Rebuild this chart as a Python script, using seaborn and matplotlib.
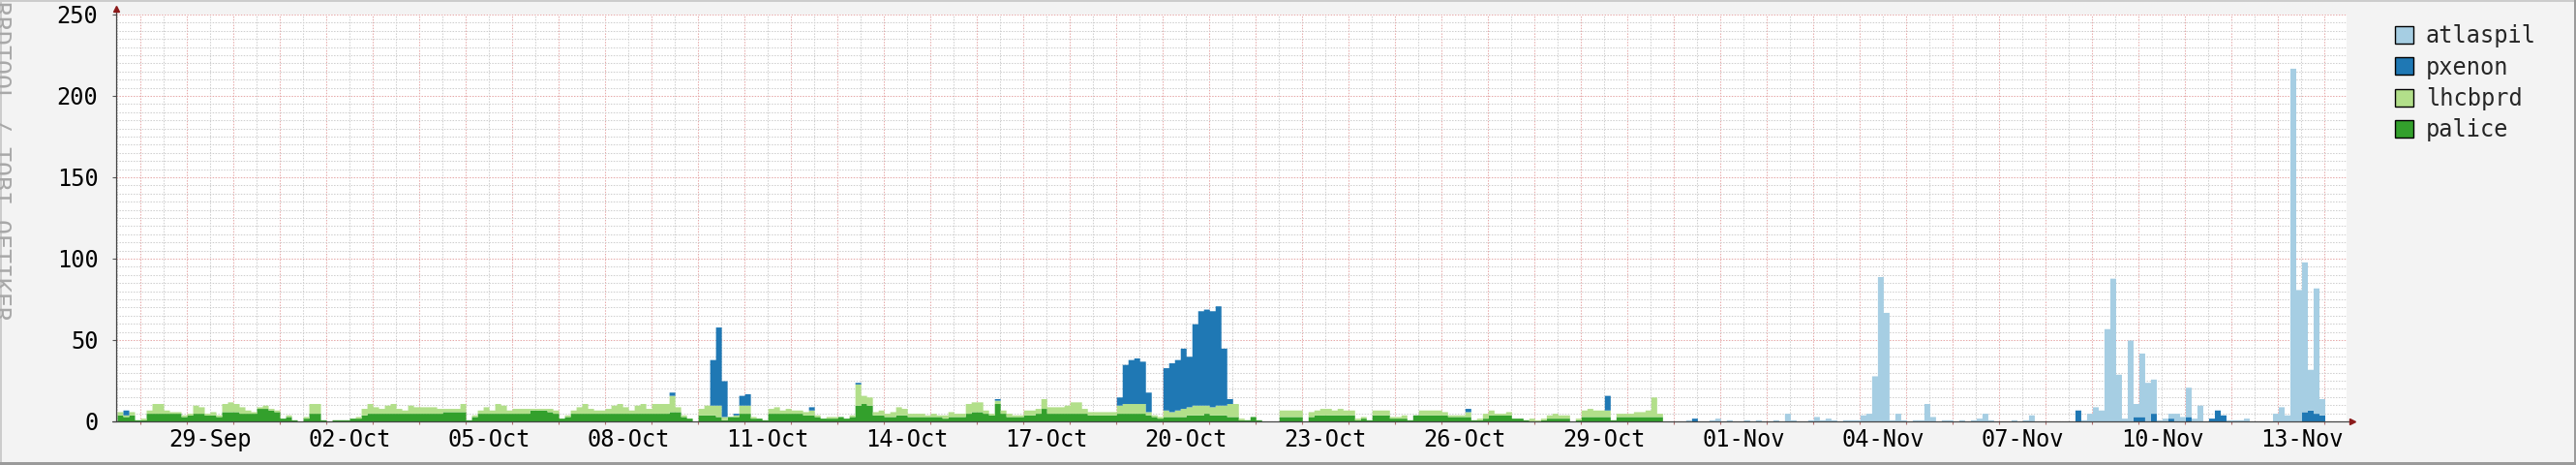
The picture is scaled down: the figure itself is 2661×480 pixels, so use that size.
import numpy as np
import pandas as pd
import matplotlib
matplotlib.use("Agg")
import matplotlib.pyplot as plt
from matplotlib.patches import Patch, Rectangle
import matplotlib.ticker as mticker
import seaborn as sns

# ---------------- data ----------------
series_names = ["atlaspil", "pxenon", "lhcbprd", "palice"]   # top -> bottom of stack
series_colors = ["#a6cee3", "#1f78b4", "#b2df8a", "#33a02c"]

# 3-hour bins, hours counted from 27-Sep 00:00; first bin starts 27-Sep 12:00
bin_start_hour = 12
bin_hours = 3

palice = [
    4, 3, 4, 1,                      # 27-Sep (12h-24h)
    1, 5, 5, 5, 5, 5, 5, 3,          # 28-Sep
    4, 5, 5, 4, 4, 3, 6, 6,          # 29-Sep
    6, 5, 5, 5, 8, 8, 7, 6,          # 30-Sep
    2, 3, 1, 0, 2, 5, 5, 1,          # 01-Oct
    0, 1, 1, 1, 2, 2, 4, 5,          # 02-Oct
    5, 5, 5, 5, 5, 5, 5, 5,          # 03-Oct
    5, 5, 5, 5, 6, 6, 6, 6,          # 04-Oct
    1, 3, 5, 5, 5, 5, 5, 5,          # 05-Oct
    5, 5, 5, 7, 7, 7, 6, 5,          # 06-Oct
    2, 3, 5, 5, 5, 5, 5, 5,          # 07-Oct
    5, 5, 5, 5, 5, 5, 5, 5,          # 08-Oct
    5, 5, 5, 6, 6, 3, 2, 0,          # 09-Oct
    4, 4, 4, 3, 1, 3, 3, 5,          # 10-Oct
    5, 2, 2, 1, 5, 5, 5, 5,          # 11-Oct
    5, 5, 4, 4, 3, 2, 2, 2,          # 12-Oct
    3, 2, 3, 10, 11, 10, 4, 4,       # 13-Oct
    3, 3, 4, 4, 3, 3, 3, 3,          # 14-Oct
    3, 3, 2, 3, 3, 3, 5, 6,          # 15-Oct
    6, 5, 4, 11, 5, 3, 3, 3,         # 16-Oct
    4, 4, 5, 8, 5, 5, 5, 5,          # 17-Oct
    5, 5, 5, 4, 4, 4, 4, 4,          # 18-Oct
    5, 5, 5, 5, 5, 4, 3, 2,          # 19-Oct
    3, 3, 3, 3, 4, 4, 4, 5,          # 20-Oct
    4, 4, 4, 3, 3, 1, 1, 3,          # 21-Oct
    1, 0, 0, 0, 3, 3, 3, 3,          # 22-Oct
    0, 3, 4, 4, 4, 4, 4, 4,          # 23-Oct
    4, 1, 2, 1, 4, 4, 4, 2,          # 24-Oct
    2, 2, 1, 4, 4, 4, 4, 4,          # 25-Oct
    4, 3, 3, 3, 3, 1, 1, 2,          # 26-Oct
    4, 4, 4, 4, 2, 2, 1, 0,          # 27-Oct
    0, 1, 2, 2, 2, 2, 0, 1,          # 28-Oct
    3, 3, 3, 3, 3, 1, 3, 3,          # 29-Oct
    3, 3, 3, 3, 3, 3, 0, 0,          # 30-Oct
    0, 0, 0, 0, 0, 0, 0, 0,          # 31-Oct
    0, 0, 0, 0, 0, 0, 0, 0,          # 01-Nov
    0, 0, 0, 0, 0, 0, 0, 0,          # 02-Nov
    0, 0, 0, 0, 0, 0, 0, 0,          # 03-Nov
    0, 0, 0, 0, 0, 0, 0, 0,          # 04-Nov
    0, 0, 0, 0, 0, 0, 0, 0,          # 05-Nov
    0, 0, 0, 0, 0, 0, 0, 0,          # 06-Nov
    0, 0, 0, 0, 0, 0, 0, 0,          # 07-Nov
    0, 0, 0, 0, 0, 0, 0, 0,          # 08-Nov
    0, 0, 0, 0, 0, 0, 0, 0,          # 09-Nov
    0, 0, 0, 0, 0, 0, 0, 0,          # 10-Nov
    0, 0, 0, 0, 0, 0, 0, 0,          # 11-Nov
    0, 0, 0, 0, 0, 0, 0, 0,          # 12-Nov
    0, 0, 0, 0, 0, 0, 0, 0,          # 13-Nov
]

lhcbprd = [
    2, 1, 2, 0,                      # 27-Sep
    1, 2, 6, 6, 2, 1, 1, 1,          # 28-Sep
    1, 5, 4, 1, 2, 1, 5, 6,          # 29-Sep
    5, 4, 2, 1, 1, 2, 1, 1,          # 30-Sep
    0, 1, 0, 0, 1, 6, 6, 0,          # 01-Oct
    0, 0, 0, 0, 0, 1, 4, 6,          # 02-Oct
    4, 3, 5, 6, 3, 2, 5, 4,          # 03-Oct
    4, 4, 4, 3, 2, 2, 2, 5,          # 04-Oct
    0, 1, 2, 4, 2, 6, 5, 2,          # 05-Oct
    3, 3, 3, 1, 1, 1, 2, 2,          # 06-Oct
    0, 1, 2, 4, 6, 3, 2, 2,          # 07-Oct
    3, 5, 6, 4, 2, 5, 6, 3,          # 08-Oct
    6, 6, 6, 10, 3, 1, 0, 0,         # 09-Oct
    4, 6, 6, 7, 2, 0, 1, 5,          # 10-Oct
    5, 1, 0, 0, 3, 4, 2, 3,          # 11-Oct
    2, 2, 2, 3, 1, 0, 1, 1,          # 12-Oct
    0, 0, 1, 13, 5, 5, 2, 3,         # 13-Oct
    2, 3, 5, 4, 2, 2, 2, 1,          # 14-Oct
    2, 1, 2, 3, 2, 2, 6, 6,          # 15-Oct
    6, 2, 1, 2, 2, 2, 1, 1,          # 16-Oct
    3, 3, 3, 6, 4, 4, 4, 5,          # 17-Oct
    7, 7, 3, 2, 2, 2, 2, 2,          # 18-Oct
    5, 6, 6, 6, 6, 2, 1, 1,          # 19-Oct
    4, 3, 4, 5, 5, 6, 6, 5,          # 20-Oct
    5, 6, 6, 8, 8, 1, 0, 0,          # 21-Oct
    0, 0, 0, 0, 4, 4, 4, 4,          # 22-Oct
    0, 3, 3, 4, 4, 3, 4, 3,          # 23-Oct
    3, 1, 1, 0, 3, 3, 3, 1,          # 24-Oct
    1, 2, 0, 0, 3, 3, 3, 3,          # 25-Oct
    2, 1, 1, 1, 3, 0, 1, 3,          # 26-Oct
    3, 1, 1, 2, 0, 0, 0, 2,          # 27-Oct
    1, 1, 2, 3, 2, 2, 0, 1,          # 28-Oct
    4, 5, 4, 4, 4, 0, 2, 2,          # 29-Oct
    2, 3, 3, 4, 12, 2, 0, 0,         # 30-Oct
    0, 0, 0, 0, 0, 0, 0, 0,          # 31-Oct
    0, 0, 0, 0, 0, 0, 0, 0,          # 01-Nov
    0, 0, 0, 0, 0, 0, 0, 0,          # 02-Nov
    0, 0, 0, 0, 0, 0, 0, 0,          # 03-Nov
    0, 0, 0, 0, 0, 0, 0, 0,          # 04-Nov
    0, 0, 0, 0, 0, 0, 0, 0,          # 05-Nov
    0, 0, 0, 0, 0, 0, 0, 0,          # 06-Nov
    0, 0, 0, 0, 0, 0, 0, 0,          # 07-Nov
    0, 0, 0, 0, 0, 0, 0, 0,          # 08-Nov
    0, 0, 0, 0, 0, 0, 0, 0,          # 09-Nov
    0, 0, 0, 0, 0, 0, 0, 0,          # 10-Nov
    0, 0, 0, 0, 0, 0, 0, 0,          # 11-Nov
    0, 0, 0, 0, 0, 0, 0, 0,          # 12-Nov
    0, 0, 0, 0, 0, 0, 0, 0,          # 13-Nov
]

pxenon = [
    0, 3, 0, 0,                      # 27-Sep
    0, 0, 0, 0, 0, 0, 0, 0,          # 28-Sep
    0, 0, 0, 0, 0, 0, 0, 0,          # 29-Sep
    0, 0, 0, 0, 0, 0, 0, 0,          # 30-Sep
    0, 0, 0, 0, 0, 0, 0, 0,          # 01-Oct
    0, 0, 0, 0, 0, 0, 0, 0,          # 02-Oct
    0, 0, 0, 0, 0, 0, 0, 0,          # 03-Oct
    0, 0, 0, 0, 0, 0, 0, 0,          # 04-Oct
    0, 0, 0, 0, 0, 0, 0, 0,          # 05-Oct
    0, 0, 0, 0, 0, 0, 0, 0,          # 06-Oct
    0, 0, 0, 0, 0, 0, 0, 0,          # 07-Oct
    0, 0, 0, 0, 0, 0, 0, 0,          # 08-Oct
    0, 0, 0, 2, 0, 0, 0, 0,          # 09-Oct
    0, 0, 28, 48, 22, 0, 1, 6,       # 10-Oct
    7, 0, 0, 0, 0, 0, 0, 0,          # 11-Oct
    0, 0, 0, 2, 0, 0, 0, 0,          # 12-Oct
    0, 0, 0, 1, 0, 0, 0, 0,          # 13-Oct
    0, 0, 0, 0, 0, 0, 0, 0,          # 14-Oct
    0, 0, 0, 0, 0, 0, 0, 0,          # 15-Oct
    0, 0, 0, 1, 0, 0, 0, 0,          # 16-Oct
    0, 0, 0, 0, 0, 0, 0, 0,          # 17-Oct
    0, 0, 0, 0, 0, 0, 0, 0,          # 18-Oct
    5, 24, 27, 28, 26, 12, 0, 0,     # 19-Oct
    26, 30, 31, 37, 31, 50, 58, 59,  # 20-Oct
    59, 61, 35, 3, 0, 0, 0, 0,       # 21-Oct
    0, 0, 0, 0, 0, 0, 0, 0,          # 22-Oct
    0, 0, 0, 0, 0, 0, 0, 0,          # 23-Oct
    0, 0, 0, 0, 0, 0, 0, 0,          # 24-Oct
    0, 0, 0, 0, 0, 0, 0, 0,          # 25-Oct
    0, 0, 0, 0, 2, 0, 0, 0,          # 26-Oct
    0, 0, 0, 0, 0, 0, 0, 0,          # 27-Oct
    0, 0, 0, 0, 0, 0, 0, 0,          # 28-Oct
    0, 0, 0, 0, 9, 0, 0, 0,          # 29-Oct
    0, 0, 0, 0, 0, 0, 0, 0,          # 30-Oct
    0, 0, 0, 2, 0, 0, 0, 0,          # 31-Oct
    0, 0, 0, 0, 0, 0, 0, 0,          # 01-Nov
    0, 0, 0, 0, 0, 0, 0, 0,          # 02-Nov
    0, 0, 0, 0, 0, 0, 0, 0,          # 03-Nov
    0, 0, 0, 0, 0, 0, 0, 0,          # 04-Nov
    0, 0, 0, 0, 0, 0, 0, 0,          # 05-Nov
    0, 0, 0, 0, 0, 0, 0, 0,          # 06-Nov
    0, 0, 0, 0, 0, 0, 0, 0,          # 07-Nov
    0, 0, 0, 0, 0, 7, 0, 0,          # 08-Nov
    0, 0, 0, 0, 0, 0, 0, 3,          # 09-Nov
    3, 0, 5, 0, 0, 2, 0, 0,          # 10-Nov
    3, 0, 0, 0, 2, 7, 4, 0,          # 11-Nov
    0, 0, 0, 0, 0, 0, 0, 0,          # 12-Nov
    0, 0, 0, 0, 6, 7, 5, 4,          # 13-Nov
]

atlaspil = [
    0, 0, 0, 0,                      # 27-Sep
    0, 0, 0, 0, 0, 0, 0, 0,          # 28-Sep
    0, 0, 0, 0, 0, 0, 0, 0,          # 29-Sep
    0, 0, 0, 0, 0, 0, 0, 0,          # 30-Sep
    0, 0, 0, 0, 0, 0, 0, 0,          # 01-Oct
    0, 0, 0, 0, 0, 0, 0, 0,          # 02-Oct
    0, 0, 0, 0, 0, 0, 0, 0,          # 03-Oct
    0, 0, 0, 0, 0, 0, 0, 0,          # 04-Oct
    0, 0, 0, 0, 0, 0, 0, 0,          # 05-Oct
    0, 0, 0, 0, 0, 0, 0, 0,          # 06-Oct
    0, 0, 0, 0, 0, 0, 0, 0,          # 07-Oct
    0, 0, 0, 0, 0, 0, 0, 0,          # 08-Oct
    0, 0, 0, 0, 0, 0, 0, 0,          # 09-Oct
    0, 0, 0, 0, 0, 0, 0, 0,          # 10-Oct
    0, 0, 0, 0, 0, 0, 0, 0,          # 11-Oct
    0, 0, 0, 0, 0, 0, 0, 0,          # 12-Oct
    0, 0, 0, 0, 0, 0, 0, 0,          # 13-Oct
    0, 0, 0, 0, 0, 0, 0, 0,          # 14-Oct
    0, 0, 0, 0, 0, 0, 0, 0,          # 15-Oct
    0, 0, 0, 0, 0, 0, 0, 0,          # 16-Oct
    0, 0, 0, 0, 0, 0, 0, 0,          # 17-Oct
    0, 0, 0, 0, 0, 0, 0, 0,          # 18-Oct
    0, 0, 0, 0, 0, 0, 0, 0,          # 19-Oct
    0, 0, 0, 0, 0, 0, 0, 0,          # 20-Oct
    0, 0, 0, 0, 0, 0, 0, 0,          # 21-Oct
    0, 0, 0, 0, 0, 0, 0, 0,          # 22-Oct
    0, 0, 0, 0, 0, 0, 0, 0,          # 23-Oct
    0, 0, 0, 0, 0, 0, 0, 0,          # 24-Oct
    0, 0, 0, 0, 0, 0, 0, 0,          # 25-Oct
    0, 0, 0, 0, 0, 0, 0, 0,          # 26-Oct
    0, 0, 0, 0, 0, 0, 0, 0,          # 27-Oct
    0, 0, 0, 0, 0, 0, 0, 0,          # 28-Oct
    0, 0, 0, 0, 0, 0, 0, 0,          # 29-Oct
    0, 0, 0, 0, 0, 0, 0, 0,          # 30-Oct
    0, 0, 1, 0, 0, 0, 1, 2,          # 31-Oct
    0, 1, 0, 0, 1, 0, 1, 0,          # 01-Nov
    0, 1, 0, 5, 1, 0, 0, 1,          # 02-Nov
    3, 1, 2, 1, 0, 1, 1, 1,          # 03-Nov
    4, 5, 28, 89, 67, 1, 5, 1,       # 04-Nov
    0, 1, 1, 11, 3, 0, 1, 1,         # 05-Nov
    0, 1, 0, 1, 2, 5, 1, 0,          # 06-Nov
    0, 0, 1, 0, 1, 4, 0, 0,          # 07-Nov
    0, 0, 0, 0, 0, 0, 1, 5,          # 08-Nov
    9, 7, 57, 88, 29, 2, 50, 8,      # 09-Nov
    39, 24, 21, 1, 2, 3, 5, 3,       # 10-Nov
    18, 2, 10, 0, 0, 0, 0, 1,        # 11-Nov
    1, 1, 2, 0, 0, 0, 0, 5,          # 12-Nov
    9, 4, 217, 81, 92, 25, 77, 10,   # 13-Nov
]

x_tick_labels = ["29-Sep", "02-Oct", "05-Oct", "08-Oct", "11-Oct", "14-Oct",
                 "17-Oct", "20-Oct", "23-Oct", "26-Oct", "29-Oct", "01-Nov",
                 "04-Nov", "07-Nov", "10-Nov", "13-Nov"]
first_label_day = 2          # 29-Sep is day 2 after 27-Sep
label_every_days = 3
y_ticks = [0, 50, 100, 150, 200, 250]

# ---------------- build table ----------------
values = {"atlaspil": atlaspil, "pxenon": pxenon, "lhcbprd": lhcbprd, "palice": palice}
n_bins = len(palice)
for k, v in values.items():
    if len(v) != n_bins:
        raise ValueError(f"{k} has {len(v)} values, expected {n_bins}")
bin_lo = bin_start_hour
bin_hi = bin_start_hour + bin_hours * n_bins
centers = bin_lo + bin_hours * np.arange(n_bins) + bin_hours / 2
frames = []
for name in series_names:
    frames.append(pd.DataFrame({"hour": centers, "value": np.asarray(values[name], float), "source": name}))
df = pd.concat(frames, ignore_index=True)

# ---------------- style ----------------
sns.set_style("white")
mono = ["DejaVu Sans Mono"]
plt.rcParams["font.family"] = mono
W, H, DPI = 2661, 480, 100
fig = plt.figure(figsize=(W / DPI, H / DPI), dpi=DPI, facecolor="#f3f3f3")
ax_left, ax_right, ax_top, ax_bottom = 119.5, 2424.0, 15.0, 435.0
ax = fig.add_axes([ax_left / W, 1 - ax_bottom / H, (ax_right - ax_left) / W, (ax_bottom - ax_top) / H])
ax.set_facecolor("white")

palette = dict(zip(series_names, series_colors))
sns.histplot(data=df, x="hour", weights="value", hue="source", hue_order=series_names,
             palette=palette, multiple="stack", binwidth=bin_hours, binrange=(bin_lo, bin_hi),
             element="step", fill=True, linewidth=0, alpha=1, legend=False, ax=ax)

x_min, x_max = 11.25, 11.25 + 48 * 24
ax.set_xlim(x_min, x_max)
ax.set_ylim(0, 250)
ax.set_xlabel("")
ax.set_ylabel("")

red_grid = "#e7aaaa"
gray_grid = "#cfcfcf"
dots = (0, (1.4, 1.4))

# x: major = midnights (red), minor = noons (gray, carry labels)
midnights = np.arange(24, x_max, 24)
noons = np.arange(12, x_max, 24)
ax.xaxis.set_major_locator(mticker.FixedLocator(midnights))
ax.xaxis.set_minor_locator(mticker.FixedLocator(noons))
label_map = {12 + 24 * (first_label_day + label_every_days * i): lab for i, lab in enumerate(x_tick_labels)}
ax.xaxis.set_major_formatter(mticker.NullFormatter())
ax.xaxis.set_minor_formatter(mticker.FixedFormatter([label_map.get(int(n), "") for n in noons]))

ax.yaxis.set_major_locator(mticker.FixedLocator(y_ticks))
ax.yaxis.set_minor_locator(mticker.MultipleLocator(5))

ax.set_axisbelow(True)
ax.grid(which="minor", axis="both", color=gray_grid, linestyle=dots, linewidth=0.75)
ax.grid(which="major", axis="both", color=red_grid, linestyle=dots, linewidth=0.75)

ax.tick_params(axis="x", which="major", length=2.5, width=0.8, color="#b07070", bottom=True)
ax.tick_params(axis="x", which="minor", length=0, pad=5, labelsize=17, labelcolor="black", bottom=True)
ax.tick_params(axis="y", which="major", length=3, width=0.8, color="#555555", pad=10,
               labelsize=17, labelcolor="black", left=True)
ax.tick_params(axis="y", which="minor", length=0)

for s in ax.spines.values():
    s.set_visible(False)

axis_col = "#444444"
ax.plot([0, 0], [0, 1 + 5 / 420], transform=ax.transAxes, color=axis_col, lw=0.9, clip_on=False, zorder=5)
ax.plot([-4 / 2304.5, 1 + 4 / 2304.5], [0, 0], transform=ax.transAxes, color=axis_col, lw=0.9, clip_on=False, zorder=5)
ax.plot([0], [1 + 6 / 420], marker="^", markersize=5, color="#8b1a1a", transform=ax.transAxes, clip_on=False, zorder=6)
ax.plot([1 + 6 / 2304.5], [0], marker=">", markersize=5, color="#8b1a1a", transform=ax.transAxes, clip_on=False, zorder=6)

# legend
handles = [Patch(facecolor=c, edgecolor="black", linewidth=1.0, label=n) for n, c in zip(series_names, series_colors)]
fig.legend(handles=handles, labels=series_names, loc="upper left",
           bbox_to_anchor=(2474 / W, 1 - 25 / H), frameon=False,
           handlelength=0.79, handleheight=0.79, handletextpad=0.55, labelspacing=0.36,
           borderpad=0, borderaxespad=0, prop={"family": mono, "size": 17})

# rrdtool watermark (vertical, partly off-canvas as in the original)
fig.text(0.5 / W, 1 - 1 / H, "RRDTOOL / TOBI OETIKER", rotation=270, ha="center", va="top",
         fontsize=18, color="#a8a8a8", family=mono)

# frame around the image
fig.add_artist(Rectangle((0, 1 - 2 / H), 1, 2 / H, transform=fig.transFigure, color="#cccccc", lw=0))
fig.add_artist(Rectangle((0, 0), 2 / W, 1, transform=fig.transFigure, color="#cccccc", lw=0))
fig.add_artist(Rectangle((0, 0), 1, 3 / H, transform=fig.transFigure, color="#9a9a9a", lw=0))
fig.add_artist(Rectangle((1 - 2 / W, 0), 2 / W, 1, transform=fig.transFigure, color="#9a9a9a", lw=0))

fig.savefig("out.png", dpi=DPI, facecolor=fig.get_facecolor())
